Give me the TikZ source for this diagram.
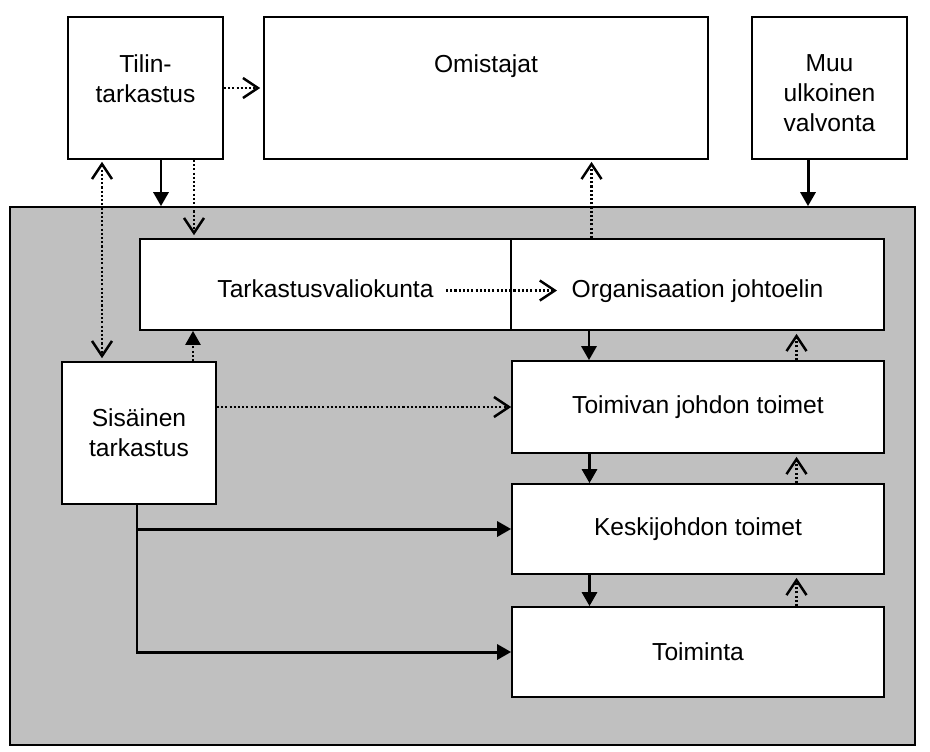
\documentclass[tikz,border=0pt]{standalone}
\usepackage{fontspec}
\setmainfont{Liberation Sans}
\usetikzlibrary{arrows.meta,calc}
\definecolor{areagray}{RGB}{192,192,192}
\tikzset{
  box/.style={draw, line width=1pt, fill=white, inner sep=0pt, align=center},
  boxtext/.style={inner sep=0pt, align=center, anchor=north},
  solidarr/.style={line width=1.7pt, -{Triangle[length=2.8mm,width=3mm]}},
  dotline/.style={line width=1.4pt, dash pattern=on 1.2pt off 1.2pt},
  dotarr/.style={dotline, -{Straight Barb[length=3mm,width=4mm]}},
  dotboth/.style={dotline, {Straight Barb[length=3mm,width=4mm]}-{Straight Barb[length=3mm,width=4mm]}},
  dotfilled/.style={dotline, -{Triangle[length=2.8mm,width=3mm]}},
}

\begin{document}
\begin{tikzpicture}[x=0.02cm, y=-0.02cm, font=\fontsize{14}{17}\selectfont]
\useasboundingbox (0,0) rectangle (930,751);

% ===== Outside the organisation =====
\node[box, minimum width=3.1cm, minimum height=2.84cm] (tilin) at (145.5,88) {};
\node[boxtext] (tilint) at (145.5,54) {Tilin-\\tarkastus};
\node[box, minimum width=8.88cm, minimum height=2.84cm] (omis) at (486,88) {};
\node[boxtext] (omist) at (486,54) {Omistajat};
\node[box, minimum width=3.1cm, minimum height=2.84cm] (muu) at (829.5,88) {};
\node[boxtext] (muut) at (829.5,54) {Muu\\ulkoinen\\valvonta};

% ===== Organisation (grey area) =====
\node[draw, line width=1pt, fill=areagray, minimum width=18.1cm, minimum height=10.76cm] (area) at (462.5,476) {};

% ----- Boards -----
\node[box, minimum width=7.42cm, minimum height=1.82cm, text height=18pt, text depth=3pt] (tvk) at (325.5,284.5) {Tarkastusvaliokunta};
\node[box, minimum width=7.46cm, minimum height=1.82cm, text height=18pt, text depth=3pt] (org) at (697.5,284.5) {Organisaation johtoelin};

% ----- Internal audit and management levels -----
\node[box, minimum width=3.08cm, minimum height=2.84cm] (sis) at (139,433) {Sisäinen\\tarkastus};
\node[box, minimum width=7.44cm, minimum height=1.84cm] (tjt) at (698,407) {Toimivan johdon toimet};
\node[box, minimum width=7.44cm, minimum height=1.8cm] (kjt) at (698,529) {Keskijohdon toimet};
\node[box, minimum width=7.44cm, minimum height=1.8cm] (toim) at (698,652) {Toiminta};

% ===== Connectors =====
% start points on the box edges
\coordinate (tilA) at ($(tilin.south)+(-43.5,0)$);
\coordinate (tilB) at ($(tilin.south)+(15.5,0)$);
\coordinate (tilC) at ($(tilin.south)+(48.5,0)$);
\coordinate (muuA) at ($(muu.south)+(-21.5,0)$);
\coordinate (orgA) at ($(org.north)+(-106,0)$);
\coordinate (tvkA) at ($(tvk.center)+(120.5,6)$);
\coordinate (orgB) at ($(org.center)+(-140.5,6)$);
\coordinate (sisA) at ($(sis.north)+(54,0)$);
\coordinate (sisB) at ($(sis.south)+(-2,0)$);

\draw[dotarr, shorten >=0.06cm] (tilin.east) -- (omis.west |- tilin.east);
\draw[solidarr] (tilB) -- (tilB |- area.north);
\draw[dotarr, shorten >=0.06cm] (tilC) -- (tilC |- tvk.north);
\draw[dotboth, shorten <=0.04cm, shorten >=0.06cm] (tilA) -- (tilA |- sis.north);
\draw[solidarr] (muuA) -- (muuA |- area.north);

\draw[dotarr, shorten >=0.04cm] (orgA) -- (orgA |- omis.south);
\draw[dotarr] (tvkA) -- (orgB);

\draw[dotfilled] (sisA) -- (sisA |- tvk.south);
\draw[dotarr] (sis.east |- tjt.west) -- (tjt.west);
\draw[solidarr] (sisB) |- (kjt.west);
\draw[solidarr] (sisB) |- (toim.west);

% down = solid, up = dotted
\foreach \a/\b in {org/tjt, tjt/kjt, kjt/toim} {
  \coordinate (down) at ($(\a.south)+(-108.5,0)$);
  \coordinate (up) at ($(\b.north)+(98.5,0)$);
  \draw[solidarr] (down) -- (down |- \b.north);
  \draw[dotarr, shorten >=0.06cm] (up) -- (up |- \a.south);
}

\end{tikzpicture}
\end{document}
